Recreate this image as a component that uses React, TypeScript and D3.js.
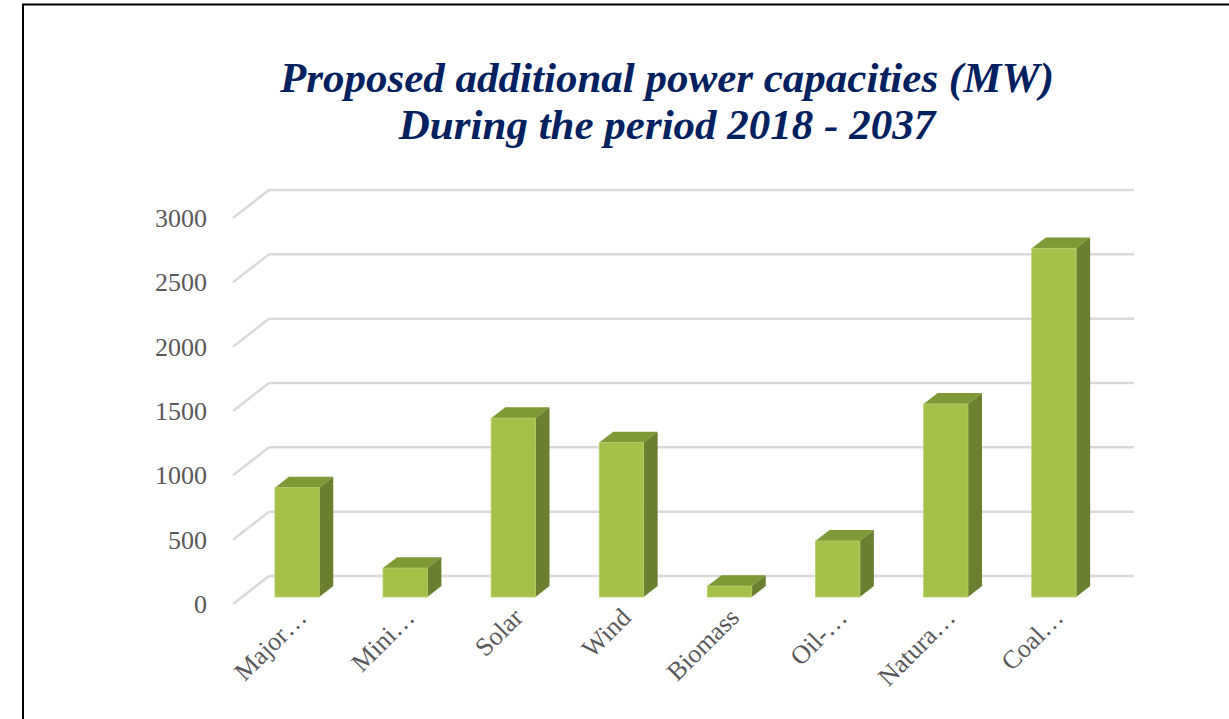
import React from "react";
import * as d3 from "d3";

const categories = ["Major…", "Mini…", "Solar", "Wind", "Biomass", "Oil-…", "Natura…", "Coal…"];
const values = [850, 225, 1390, 1200, 85, 435, 1500, 2710];
const yTicks = [0, 500, 1000, 1500, 2000, 2500, 3000];
const titleLines = ["Proposed additional power capacities (MW)", "During the period 2018 - 2037"];

const W = 1229;
const H = 719;
const DEPTH_X = 36;
const DEPTH_Y = -28;
const D0 = 0.25;
const D1 = 0.64;

export default function App() {
  const x = d3.scaleBand<string>().domain(categories).range([234, 1099]).paddingInner(0).paddingOuter(0);
  const y = d3.scaleLinear().domain([0, 3000]).range([604, 218]);
  const bw = x.bandwidth() * 0.41;
  const font = "'Liberation Serif', 'Times New Roman', serif";
  const gx0 = 233;
  const gx1 = 1098;

  return (
    <div style={{ position: "fixed", left: 0, top: 0 }}>
      <svg width={W} height={H} style={{ display: "block", background: "#fff" }}>
        <rect x={23} y={4.5} width={W + 10} height={H + 10} fill="#fff" stroke="#000" strokeWidth={2} />
        {titleLines.map((t, i) => (
          <text key={i} x={667} y={92 + i * 47} textAnchor="middle" fontFamily={font} fontWeight="bold" fontStyle="italic" fontSize={43} fill="#002060">
            {t}
          </text>
        ))}
        <g stroke="#d9d9d9" strokeWidth={2.5} fill="none">
          {yTicks.map((t) => (
            <g key={t}>
              <line x1={gx0} y1={y(t)} x2={gx0 + DEPTH_X} y2={y(t) + DEPTH_Y} />
              <line x1={gx0 + DEPTH_X} y1={y(t) + DEPTH_Y} x2={gx1 + DEPTH_X} y2={y(t) + DEPTH_Y} />
            </g>
          ))}
        </g>
        {yTicks.map((t) => (
          <text key={t} x={207} y={y(t)} dy="0.35em" textAnchor="end" fontFamily={font} fontSize={26} fill="#595959">
            {t}
          </text>
        ))}
        {categories.map((c, i) => {
          const cx = (x(c) as number) + x.bandwidth() / 2;
          const xl = cx - bw / 2 + DEPTH_X * D0;
          const xr = xl + bw;
          const yb = y(0) + DEPTH_Y * D0;
          const yt = y(values[i]) + DEPTH_Y * D0;
          const ox = DEPTH_X * (D1 - D0);
          const oy = DEPTH_Y * (D1 - D0);
          return (
            <g key={c}>
              <polygon points={`${xl},${yt} ${xl + ox},${yt + oy} ${xr + ox},${yt + oy} ${xr},${yt}`} fill="#7d9a36" />
              <polygon points={`${xr},${yt} ${xr + ox},${yt + oy} ${xr + ox},${yb + oy} ${xr},${yb}`} fill="#6a802e" />
              <rect x={xl} y={yt} width={bw} height={yb - yt} fill="#a5c14a" stroke="#b5cf66" strokeWidth={0.8} />
            </g>
          );
        })}
        {categories.map((c) => {
          const cx = (x(c) as number) + x.bandwidth() / 2;
          return (
            <text key={c} transform={`translate(${cx + 20},${619}) rotate(-45)`} textAnchor="end" fontFamily={font} fontSize={26} fill="#595959">
              {c}
            </text>
          );
        })}
      </svg>
    </div>
  );
}
